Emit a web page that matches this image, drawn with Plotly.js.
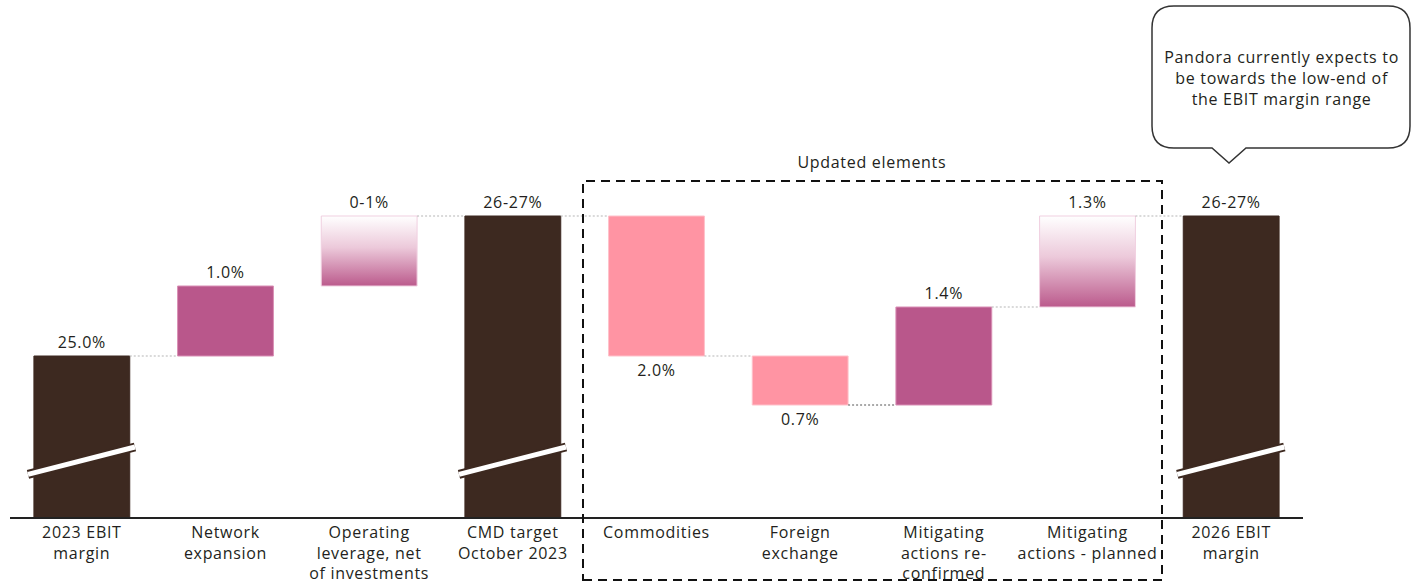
<!DOCTYPE html>
<html>
<head>
<meta charset="utf-8">
<script src="https://cdn.plot.ly/plotly-3.0.1.min.js"></script>
<style>
html,body{margin:0;padding:0;background:#fff;}
#chart{width:1418px;height:584px;}
#chart svg text{letter-spacing:0.7px;}
</style>
</head>
<body>
<div id="chart"></div>
<script>
// ---- data ----
const categories = [
  "2023 EBIT<br>margin",
  "Network<br>expansion",
  "Operating<br>leverage, net<br>of investments",
  "CMD target<br>October 2023",
  "Commodities",
  "Foreign<br>exchange",
  "Mitigating<br>actions re-<br>confirmed",
  "Mitigating<br>actions - planned",
  "2026 EBIT<br>margin"
];
const measures = ["absolute","relative","relative","total","relative","relative","relative","relative","total"];
const values = [25.0, 1.0, 1.0, 27.0, -2.0, -0.7, 1.4, 1.3, 27.0];
const valueLabels = ["25.0%","1.0%","0-1%","26-27%","2.0%","0.7%","1.4%","1.3%","26-27%"];
const kinds = ["total","up","range","total","down","down","up","range","total"];
const connectorAfter = [true,false,true,true,true,true,true,true];
const brokenBars = [0,3,8];

// ---- styling ----
const FONT = "Open Sans, Lato, sans-serif";
const FS = 16;
const TXT = "#231f20";
const colorMap = {total:"#3d2920", up:"#b9578b", down:"#ff94a3", range:"#e7b9cf"};
const lineMap = {total:"#3d2920", up:"#d98fb5", down:"#ffc1ca", range:"#f0cfe0"};
const BW = 0.667;

// compute bases / heights from data
const bases = [], heights = [], ends = [];
let level = 0;
for (let i = 0; i < values.length; i++) {
  if (measures[i] === "absolute" || measures[i] === "total") {
    bases.push(0); heights.push(values[i]); level = values[i];
  } else {
    bases.push(level); heights.push(values[i]); level = level + values[i];
  }
  ends.push(level);
}

const trace = {
  type: "bar",
  x: categories,
  y: heights,
  base: bases,
  width: BW,
  marker: {
    color: kinds.map(k => colorMap[k]),
    line: {color: kinds.map(k => lineMap[k]), width: 1}
  },
  text: valueLabels,
  textposition: "outside",
  constraintext: "none",
  textfont: {family: FONT, size: FS, color: TXT},
  cliponaxis: false,
  hoverinfo: "skip"
};

const shapes = [];
// connectors
for (let i = 0; i < connectorAfter.length; i++) {
  if (!connectorAfter[i]) continue;
  shapes.push({
    type: "line", xref: "x", yref: "y",
    x0: i + BW/2, x1: i + 1 - BW/2, y0: ends[i], y1: ends[i],
    line: {color: (i === 5 ? "#555555" : "#b5b5b5"), width: 1, dash: "2px,2px"}
  });
}
// axis break marks
brokenBars.forEach(i => {
  shapes.push({type:"line", xref:"x", yref:"y", x0:i-0.375, x1:i+0.37, y0:23.31, y1:23.70,
    line:{color:"#3d2920", width:9}});
  shapes.push({type:"line", xref:"x", yref:"y", x0:i-0.375, x1:i+0.37, y0:23.31, y1:23.70,
    line:{color:"#ffffff", width:5}});
});

// pixel helpers (plot area: left 10, width 1293, top 0, height 517)
const PL = 10, PW = 1293, PT = 0, PH = 517;
const px = v => (v - PL) / PW;
const py = v => (PT + PH - v) / PH;

// dashed "updated elements" box
shapes.push({
  type: "rect", xref: "paper", yref: "paper",
  x0: px(583), x1: px(1162), y0: py(580), y1: py(181),
  line: {color: "#111111", width: 2, dash: "9px,6px"},
  fillcolor: "rgba(0,0,0,0)"
});

// callout bubble
(function(){
  const L=1152, R=1410, T=6, B=148, r=22;
  const P = (x,y) => px(x).toFixed(5) + "," + py(y).toFixed(5);
  const d = "M" + P(L+r,T) + " L" + P(R-r,T) + " Q" + P(R,T) + " " + P(R,T+r) +
    " L" + P(R,B-r) + " Q" + P(R,B) + " " + P(R-r,B) +
    " L" + P(1246,B) + " L" + P(1229,163) + " L" + P(1212,B) +
    " L" + P(L+r,B) + " Q" + P(L,B) + " " + P(L,B-r) +
    " L" + P(L,T+r) + " Q" + P(L,T) + " " + P(L+r,T) + " Z";
  shapes.push({type:"path", xref:"paper", yref:"paper", path:d,
    line:{color:"#333333", width:1.5}, fillcolor:"#ffffff"});
})();

const annotations = [
  {xref:"paper", yref:"paper", x: px(872), y: py(162), text:"Updated elements",
   showarrow:false, font:{family:FONT, size:FS, color:TXT}, xanchor:"center", yanchor:"middle"},
  {xref:"paper", yref:"paper", x: px(1281), y: py(78),
   text:"Pandora currently expects to<br>be towards the low-end of<br>the EBIT margin range",
   showarrow:false, font:{family:FONT, size:FS, color:TXT}, xanchor:"center", yanchor:"middle", align:"center"}
];

const layout = {
  width: 1418, height: 584,
  margin: {l: PL, r: 1418 - PL - PW, t: PT, b: 584 - PT - PH},
  paper_bgcolor: "#ffffff", plot_bgcolor: "#ffffff",
  showlegend: false,
  bargap: 0.333,
  xaxis: {
    type: "category", range: [-0.5, 8.5], fixedrange: true,
    showline: true, linecolor: "#222222", linewidth: 1.5,
    ticks: "", showgrid: false, zeroline: false,
    tickfont: {family: FONT, size: FS, color: TXT}
  },
  yaxis: {
    range: [22.7, 22.7 + PH/70], visible: false, showgrid: false, zeroline: false, fixedrange: true
  },
  shapes: shapes,
  annotations: annotations,
  font: {family: FONT, color: TXT}
};

Plotly.newPlot("chart", [trace], layout, {staticPlot: true, displayModeBar: false}).then(function(gd){
  const svg = gd.querySelector("svg.main-svg");
  const ns = "http://www.w3.org/2000/svg";
  let defs = svg.querySelector("defs");
  if (!defs) { defs = document.createElementNS(ns, "defs"); svg.insertBefore(defs, svg.firstChild); }
  const grad = document.createElementNS(ns, "linearGradient");
  grad.setAttribute("id", "rangeGrad");
  grad.setAttribute("x1","0"); grad.setAttribute("y1","0");
  grad.setAttribute("x2","0"); grad.setAttribute("y2","1");
  [["0","#ffffff"],["0.45","#ecc9da"],["1","#bb5a8c"]].forEach(s => {
    const st = document.createElementNS(ns, "stop");
    st.setAttribute("offset", s[0]); st.setAttribute("stop-color", s[1]);
    grad.appendChild(st);
  });
  defs.appendChild(grad);
  const paths = gd.querySelectorAll(".barlayer .trace .point path");
  kinds.forEach((k, i) => {
    if (k === "range" && paths[i]) paths[i].style.fill = "url(#rangeGrad)";
  });
});
</script>
</body>
</html>
